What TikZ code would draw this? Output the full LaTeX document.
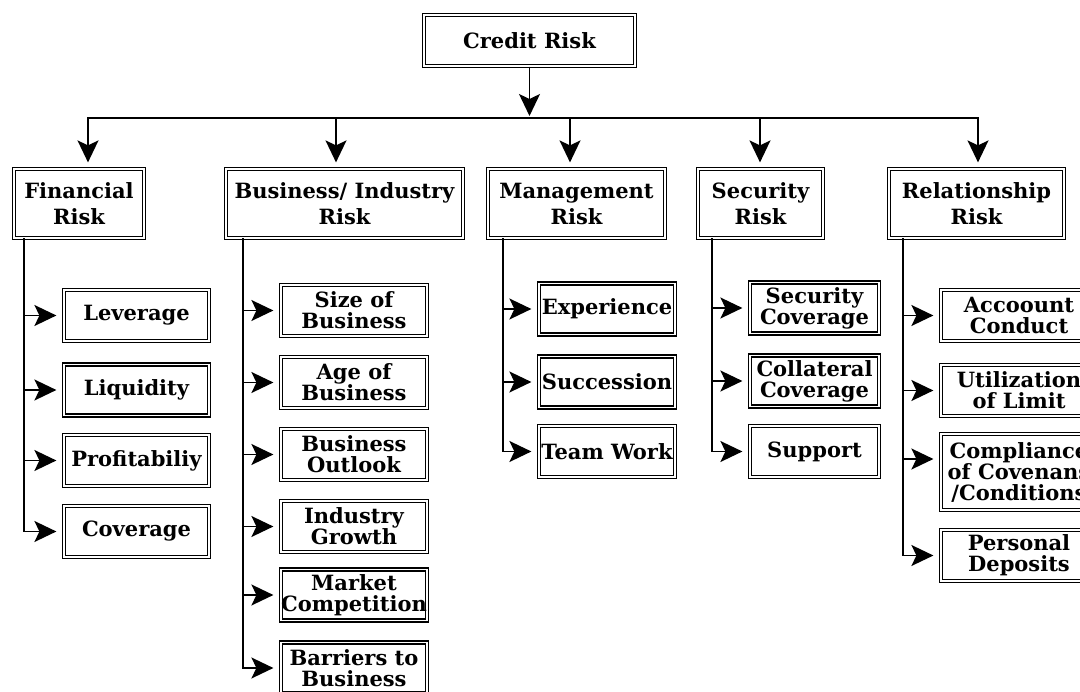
\documentclass[tikz,border=0pt]{standalone}
\usepackage{fontspec}
\setmainfont{DejaVu Serif}
\usetikzlibrary{arrows.meta}
\tikzset{
  riskbox/.style={draw, double, line width=1.2pt, double distance=1.8pt, align=center,
    inner sep=0pt, minimum height=69pt, font=\fontsize{21}{26}\selectfont\bfseries},
  itembox/.style={riskbox, minimum height=51pt, font=\fontsize{21}{21}\selectfont\bfseries},
  conn/.style={line width=1.5pt, line cap=rect},
  arr/.style={line width=1.5pt, -{Stealth[length=22pt,width=21pt,inset=5pt]}},
}
\begin{document}
\begin{tikzpicture}[x=1pt,y=-1pt]
            \useasboundingbox (0,0) rectangle (1080,692);
            \clip (0,0) rectangle (1080,692);
            \fill[white] (0,0) rectangle (1080,692);

            % Credit Risk
            \node[riskbox, minimum width=211pt, minimum height=51pt] (credit) at (529.5,40.5) {Credit Risk};

            % Barra orizzontale
            \coordinate (tapfin) at (88,118);
            \coordinate (tapbiz) at (336,118);
            \coordinate (tapman) at (570,118);
            \coordinate (tapsec) at (760,118);
            \coordinate (taprel) at (978,118);
            \draw[conn] (tapfin) -- (taprel);
            \draw[arr, shorten >=2pt] (credit.south) -- (credit.south |- tapfin);

            % Rischi principali
            \node[riskbox, minimum width=130pt] (fin) at (79,203.5) {Financial\\Risk};
            \node[riskbox, minimum width=237pt] (biz) at (344.5,203.5) {Business/ Industry\\Risk};
            \node[riskbox, minimum width=177pt] (man) at (576.5,203.5) {Management\\Risk};
            \node[riskbox, minimum width=125pt] (sec) at (760.5,203.5) {Security\\Risk};
            \node[riskbox, minimum width=175pt] (rel) at (976.5,203.5) {Relationship\\Risk};
            \foreach \h in {fin,biz,man,sec,rel}
                \draw[arr, shorten >=6pt] (tap\h) -- (tap\h |- \h.north);

            % Financial Risk
            \node[itembox, minimum width=145pt] (lev) at (136.5,315.5) {Leverage};
            \node[itembox, minimum width=145pt] (liq) at (136.5,390) {Liquidity};
            \node[itembox, minimum width=145pt] (pro) at (136.5,460.5) {Profitabiliy};
            \node[itembox, minimum width=145pt] (cov) at (136.5,531.5) {Coverage};
            \coordinate (trkfin) at (24,0);
            \draw[conn] (trkfin |- fin.south) -- (trkfin |- cov.west);
            \foreach \c in {lev,liq,pro,cov}
                \draw[arr, shorten >=7pt] (trkfin |- \c.west) -- (\c.west);

            % Business/Industry Risk
            \node[itembox, minimum width=146pt] (size) at (354,310.5) {Size of\\Business};
            \node[itembox, minimum width=146pt] (age) at (354,382.5) {Age of\\Business};
            \node[itembox, minimum width=146pt] (outl) at (354,454.5) {Business\\Outlook};
            \node[itembox, minimum width=146pt] (grow) at (354,526.5) {Industry\\Growth};
            \node[itembox, minimum width=146pt] (mkt) at (354,595) {Market\\Competition};
            \node[itembox, minimum width=146pt] (barr) at (354,668) {Barriers to\\Business};
            \coordinate (trkbiz) at (243,0);
            \draw[conn] (trkbiz |- biz.south) -- (trkbiz |- barr.west);
            \foreach \c in {size,age,outl,grow,mkt,barr}
                \draw[arr, shorten >=7pt] (trkbiz |- \c.west) -- (\c.west);

            % Management Risk
            \node[itembox, minimum width=136pt] (exper) at (607,309) {Experience};
            \node[itembox, minimum width=136pt] (succ) at (607,382) {Succession};
            \node[itembox, minimum width=136pt] (team) at (607,451.5) {Team Work};
            \coordinate (trkman) at (503,0);
            \draw[conn] (trkman |- man.south) -- (trkman |- team.west);
            \foreach \c in {exper,succ,team}
                \draw[arr, shorten >=7pt] (trkman |- \c.west) -- (\c.west);

            % Security Risk
            \node[itembox, minimum width=129pt] (seccov) at (814.5,308) {Security\\Coverage};
            \node[itembox, minimum width=129pt] (colcov) at (814.5,381) {Collateral\\Coverage};
            \node[itembox, minimum width=129pt] (supp) at (814.5,451.5) {Support};
            \coordinate (trksec) at (712,0);
            \draw[conn] (trksec |- sec.south) -- (trksec |- supp.west);
            \foreach \c in {seccov,colcov,supp}
                \draw[arr, shorten >=7pt] (trksec |- \c.west) -- (\c.west);

            % Relationship Risk
            \node[itembox, minimum width=156pt] (acc) at (1019,315.5) {Accoount\\Conduct};
            \node[itembox, minimum width=156pt] (util) at (1019,390.5) {Utilization\\of Limit};
            \node[itembox, minimum width=156pt, minimum height=76pt] (comp) at (1019,472) {Compliance\\of Covenans\\/Conditions};
            \node[itembox, minimum width=156pt] (pers) at (1019,555.5) {Personal\\Deposits};
            \coordinate (comptip) at ([yshift=13pt]comp.west);
            \coordinate (trkrel) at (903,0);
            \draw[conn] (trkrel |- rel.south) -- (trkrel |- pers.west);
            \foreach \c in {acc.west,util.west,comptip,pers.west}
                \draw[arr, shorten >=7pt] (trkrel |- \c) -- (\c);
        \end{tikzpicture}
\end{document}
